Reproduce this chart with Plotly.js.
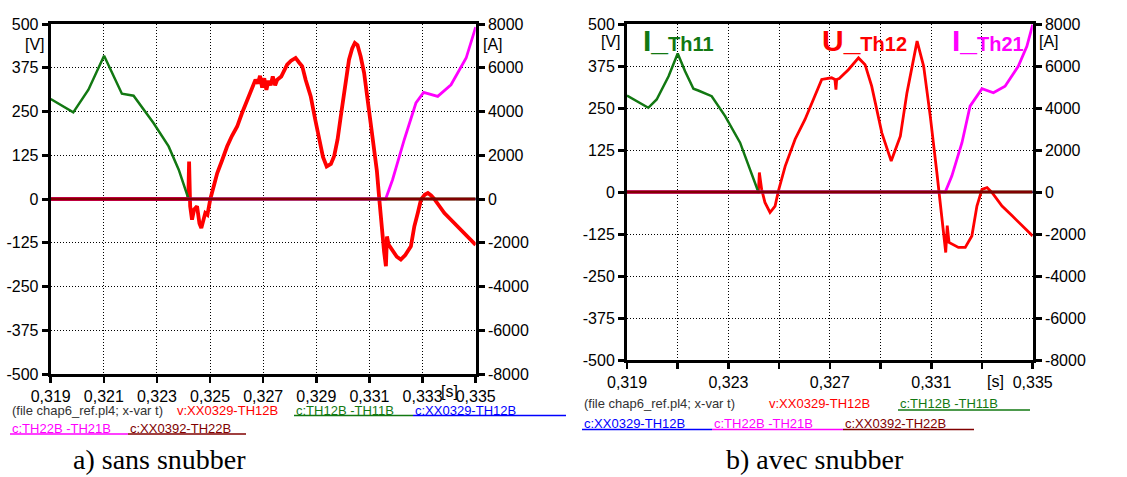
<!DOCTYPE html>
<html>
<head>
<meta charset="utf-8">
<script src="https://cdn.plot.ly/plotly-3.0.1.min.js"></script>
<style>html,body{margin:0;padding:0;background:#fff;}#chart{width:1127px;height:477px;}</style>
</head>
<body>
<div id="chart"></div>
<script>
// ---------- DATA ----------
const xTickVals = [0.319, 0.321, 0.323, 0.325, 0.327, 0.329, 0.331, 0.333, 0.335];
const xTickTextA = ['0,319','0,321','0,323','0,325','0,327','0,329','0,331','0,333','0,335'];
const xTickTextB = ['0,319','','0,323','','0,327','','0,331','','0,335'];
const vTickVals = [-500, -375, -250, -125, 0, 125, 250, 375, 500];
const vTickText = ['-500','-375','-250','-125','0','125','250','375','500'];
const aTickVals = [-8000, -6000, -4000, -2000, 0, 2000, 4000, 6000, 8000];
const aTickText = ['-8000','-6000','-4000','-2000','0','2000','4000','6000','8000'];

// a) sans snubber
const aRedT = [0.319, 0.32418, 0.32421, 0.32425, 0.32432, 0.32440, 0.32451, 0.32460, 0.32467, 0.32475, 0.32482, 0.32490, 0.32501, 0.32515, 0.32527, 0.32545, 0.32564, 0.32582, 0.32602, 0.3262, 0.3264, 0.32656, 0.32671, 0.32680, 0.32688, 0.32696, 0.32704, 0.32712, 0.32720, 0.32728, 0.32736, 0.32745, 0.32753, 0.32768, 0.32790, 0.32805, 0.32822, 0.32835, 0.32847, 0.32860, 0.32879, 0.32895, 0.3291, 0.32925, 0.32939, 0.32955, 0.32967, 0.3298, 0.32992, 0.33008, 0.33023, 0.33035, 0.33045, 0.33055, 0.33067, 0.3308, 0.33093, 0.33105, 0.33118, 0.33128, 0.33137, 0.33149, 0.33155, 0.33162, 0.33166, 0.33172, 0.33187, 0.33203, 0.33218, 0.33235, 0.33256, 0.33269, 0.33282, 0.33294, 0.33308, 0.3332, 0.33332, 0.33344, 0.33363, 0.33382, 0.33405, 0.33432, 0.33455, 0.33476, 0.335];
const aRedV = [0, 0, 107, -20, -59, -30, -21, -70, -83, -55, -40, -45, 0, 40, 74, 110, 150, 180, 207, 245, 284, 310, 341, 330, 352, 318, 345, 312, 338, 325, 350, 325, 341, 350, 384, 395, 403, 390, 379, 340, 293, 230, 169, 120, 93, 100, 122, 170, 236, 320, 398, 430, 446, 440, 407, 360, 284, 220, 141, 80, 0, -116, -150, -192, -107, -130, -145, -165, -173, -160, -135, -78, -40, -2, 12, 17, 10, 0, -20, -40, -58, -78, -95, -111, -131];
const aGreenT = [0.319, 0.31985, 0.32042, 0.32101, 0.32168, 0.32212, 0.32287, 0.32344, 0.32382, 0.32419, 0.335];
const aGreenA = [4571, 3958, 4995, 6550, 4813, 4722, 3474, 2405, 1339, 0, 0];
const aMagT = [0.319, 0.33161, 0.33187, 0.33231, 0.33275, 0.33304, 0.33357, 0.33407, 0.33464, 0.335];
const aMagA = [0, 0, 882, 2710, 4388, 4873, 4690, 5224, 6444, 7861];
const aBlueT = [0.319, 0.335];
const aBlueA = [0, 0];
const aDarkT = [0.319, 0.335];
const aDarkA = [0, 0];

// b) avec snubber
const bRedT = [0.319, 0.32418, 0.32422, 0.32431, 0.32444, 0.32464, 0.32484, 0.32497, 0.32524, 0.32563, 0.32602, 0.32635, 0.32668, 0.32707, 0.3272, 0.32724, 0.32727, 0.32737, 0.32773, 0.32813, 0.32839, 0.32865, 0.32905, 0.32942, 0.32978, 0.33004, 0.33044, 0.3307, 0.33096, 0.33122, 0.33142, 0.3315, 0.33157, 0.33163, 0.3317, 0.33207, 0.33234, 0.3326, 0.3328, 0.333, 0.3332, 0.3334, 0.33379, 0.33419, 0.33458, 0.335];
const bRedV = [0, 0, 58, 8, -31, -61, -42, 3, 77, 157, 216, 275, 335, 340, 335, 305, 335, 338, 364, 399, 379, 315, 176, 92, 166, 295, 449, 374, 226, 58, -71, -130, -180, -100, -150, -165, -165, -131, -42, 8, 13, -2, -42, -71, -101, -131];
const bGreenT = [0.319, 0.31984, 0.32017, 0.32064, 0.321, 0.32129, 0.32162, 0.32181, 0.32234, 0.32287, 0.32346, 0.32379, 0.32418, 0.335];
const bGreenA = [4596, 4011, 4406, 5513, 6592, 5751, 4915, 4834, 4563, 3612, 2348, 1236, 0, 0];
const bMagT = [0.319, 0.33155, 0.33181, 0.33221, 0.33253, 0.333, 0.33345, 0.33391, 0.33443, 0.33477, 0.335];
const bMagA = [0, 0, 760, 2348, 4088, 4915, 4724, 5038, 5989, 6939, 7971];
const bBlueT = [0.319, 0.335];
const bBlueA = [0, 0];
const bDarkT = [0.319, 0.335];
const bDarkA = [0, 0];

const legendNames = ['v:XX0329-TH12B', 'c:TH12B -TH11B', 'c:XX0329-TH12B', 'c:TH22B -TH21B', 'c:XX0392-TH22B'];
const fileNote = '(file chap6_ref.pl4; x-var t)';
const captions = ['a) sans snubber', 'b) avec snubber'];

// ---------- STYLE ----------
const W = 1127, H = 477;
const px = x => x / W;
const py = y => 1 - y / H;
const C = {red: '#ff0000', green: '#127812', blue: '#0000ff', mag: '#ff00ff', dark: '#800000'};
const tickFont = {family: 'Liberation Sans, Arial, sans-serif', size: 16, color: '#000'};

function ln(x, y, xa, ya, color, width) {
  return {x: x, y: y, xaxis: xa, yaxis: ya, type: 'scatter', mode: 'lines',
          line: {color: color, width: width}, hoverinfo: 'skip'};
}

const traces = [
  ln(aRedT, aRedV, 'x', 'y', C.red, 3.8),
  ln(aGreenT, aGreenA, 'x', 'y2', C.green, 2.5),
  ln(aBlueT, aBlueA, 'x', 'y2', C.blue, 2),
  ln(aMagT, aMagA, 'x', 'y2', C.mag, 2.8),
  ln(aDarkT, aDarkA, 'x', 'y2', C.dark, 3.2),
  ln(bRedT, bRedV, 'x2', 'y3', C.red, 2.8),
  ln(bGreenT, bGreenA, 'x2', 'y4', C.green, 2.5),
  ln(bBlueT, bBlueA, 'x2', 'y4', C.blue, 2),
  ln(bMagT, bMagA, 'x2', 'y4', C.mag, 2.8),
  ln(bDarkT, bDarkA, 'x2', 'y4', C.dark, 3.2)
];

function xAxis(domain, anchor, ticktext) {
  return {domain: domain, anchor: anchor, range: [0.319, 0.335], tickmode: 'array',
          tickvals: xTickVals, ticktext: ticktext, ticks: 'outside', ticklen: 6, tickwidth: 2.5,
          tickcolor: '#000', showline: true, linewidth: 3, linecolor: '#000', mirror: true,
          showgrid: true, gridcolor: '#000', gridwidth: 1, griddash: '1px,2px', zeroline: false,
          tickfont: tickFont, fixedrange: true};
}
function vAxis(domain, anchor) {
  return {domain: domain, anchor: anchor, range: [-500, 500], tickmode: 'array',
          tickvals: vTickVals, ticktext: vTickText, ticks: 'outside', ticklen: 6, tickwidth: 3,
          tickcolor: '#000', showline: true, linewidth: 3, linecolor: '#000',
          showgrid: true, gridcolor: '#000', gridwidth: 1, griddash: '1px,2px', zeroline: false,
          tickfont: tickFont, fixedrange: true};
}
function aAxis(overlay, anchor) {
  return {overlaying: overlay, anchor: anchor, side: 'right', range: [-8000, 8000], tickmode: 'array',
          tickvals: aTickVals, ticktext: aTickText, ticks: 'outside', ticklen: 6, tickwidth: 3,
          tickcolor: '#000', showline: true, linewidth: 3, linecolor: '#000',
          showgrid: false, zeroline: false, tickfont: tickFont, fixedrange: true};
}

const aXd = [px(50.7), px(475.7)], aYd = [py(374), py(24)];
const bXd = [px(627), px(1032.7)], bYd = [py(360), py(24)];

const lf = {family: 'Liberation Sans, Arial, sans-serif', size: 13};
function txt(t, x, y, color, xanchor, font) {
  return {text: t, xref: 'paper', yref: 'paper', x: px(x), y: py(y), xanchor: xanchor || 'left',
          yanchor: 'middle', showarrow: false, font: Object.assign({}, font || lf, {color: color})};
}
function uline(x0, x1, y, color) {
  return {type: 'line', xref: 'paper', yref: 'paper', x0: px(x0), x1: px(x1), y0: py(y), y1: py(y),
          line: {color: color, width: 1.3}};
}

const unitFont = {family: 'Liberation Sans, Arial, sans-serif', size: 16};
const capFont = {family: 'Liberation Serif, Times New Roman, serif', size: 28};
const bigFont = {family: 'Liberation Sans, Arial, sans-serif', size: 20};

function label(big, small, x, y, color) {
  return {text: '<b><span style="font-size:30px">' + big + '_</span>' + small + '</b>',
          xref: 'paper', yref: 'paper', x: px(x), y: py(y), xanchor: 'left', yanchor: 'middle',
          showarrow: false, font: Object.assign({}, bigFont, {color: color})};
}

const annotations = [
  txt('[V]', 47, 45, '#000', 'right', unitFont),
  txt('[A]', 481, 45, '#000', 'left', unitFont),
  txt('[s]', 449, 391, '#000', 'center', unitFont),
  txt('[V]', 623, 42, '#000', 'right', unitFont),
  txt('[A]', 1037, 42, '#000', 'left', unitFont),
  txt('[s]', 995, 381, '#000', 'center', unitFont),
  label('I', 'Th11', 641, 40, C.green),
  label('U', 'Th12', 820, 40, C.red),
  label('I', 'Th21', 950, 40, C.mag),
  // legend a)
  txt(fileNote, 10, 410, '#333'),
  txt(legendNames[0], 175, 410, C.red),
  txt(legendNames[1], 294, 410, C.green),
  txt(legendNames[2], 413, 410, C.blue),
  txt(legendNames[3], 10, 428, C.mag),
  txt(legendNames[4], 128, 428, C.dark),
  // legend b)
  txt(fileNote, 582, 403, '#333'),
  txt(legendNames[0], 767, 403, C.red),
  txt(legendNames[1], 898, 403, C.green),
  txt(legendNames[2], 582, 423, C.blue),
  txt(legendNames[3], 712, 423, C.mag),
  txt(legendNames[4], 843, 423, C.dark),
  // captions
  txt(captions[0], 159, 459, '#000', 'center', capFont),
  txt(captions[1], 815, 459, '#000', 'center', capFont)
];

const shapes = [
  uline(294, 413, 415.5, C.green),
  uline(413, 566, 415.5, C.blue),
  uline(10, 128, 434, C.mag),
  uline(128, 246, 434, C.dark),
  uline(898, 1030, 410, C.green),
  uline(582, 712, 429.5, C.blue),
  uline(712, 843, 429.5, C.mag),
  uline(843, 974, 429.5, C.dark)
];

const layout = {
  width: W, height: H, autosize: false,
  margin: {l: 0, r: 0, t: 0, b: 0, pad: 0},
  paper_bgcolor: '#fff', plot_bgcolor: '#fff',
  showlegend: false,
  xaxis: xAxis(aXd, 'y', xTickTextA),
  yaxis: vAxis(aYd, 'x'),
  yaxis2: aAxis('y', 'x'),
  xaxis2: xAxis(bXd, 'y3', xTickTextB),
  yaxis3: vAxis(bYd, 'x2'),
  yaxis4: aAxis('y3', 'x2'),
  annotations: annotations,
  shapes: shapes
};

Plotly.newPlot('chart', traces, layout, {displayModeBar: false, staticPlot: true});
</script>
</body>
</html>
